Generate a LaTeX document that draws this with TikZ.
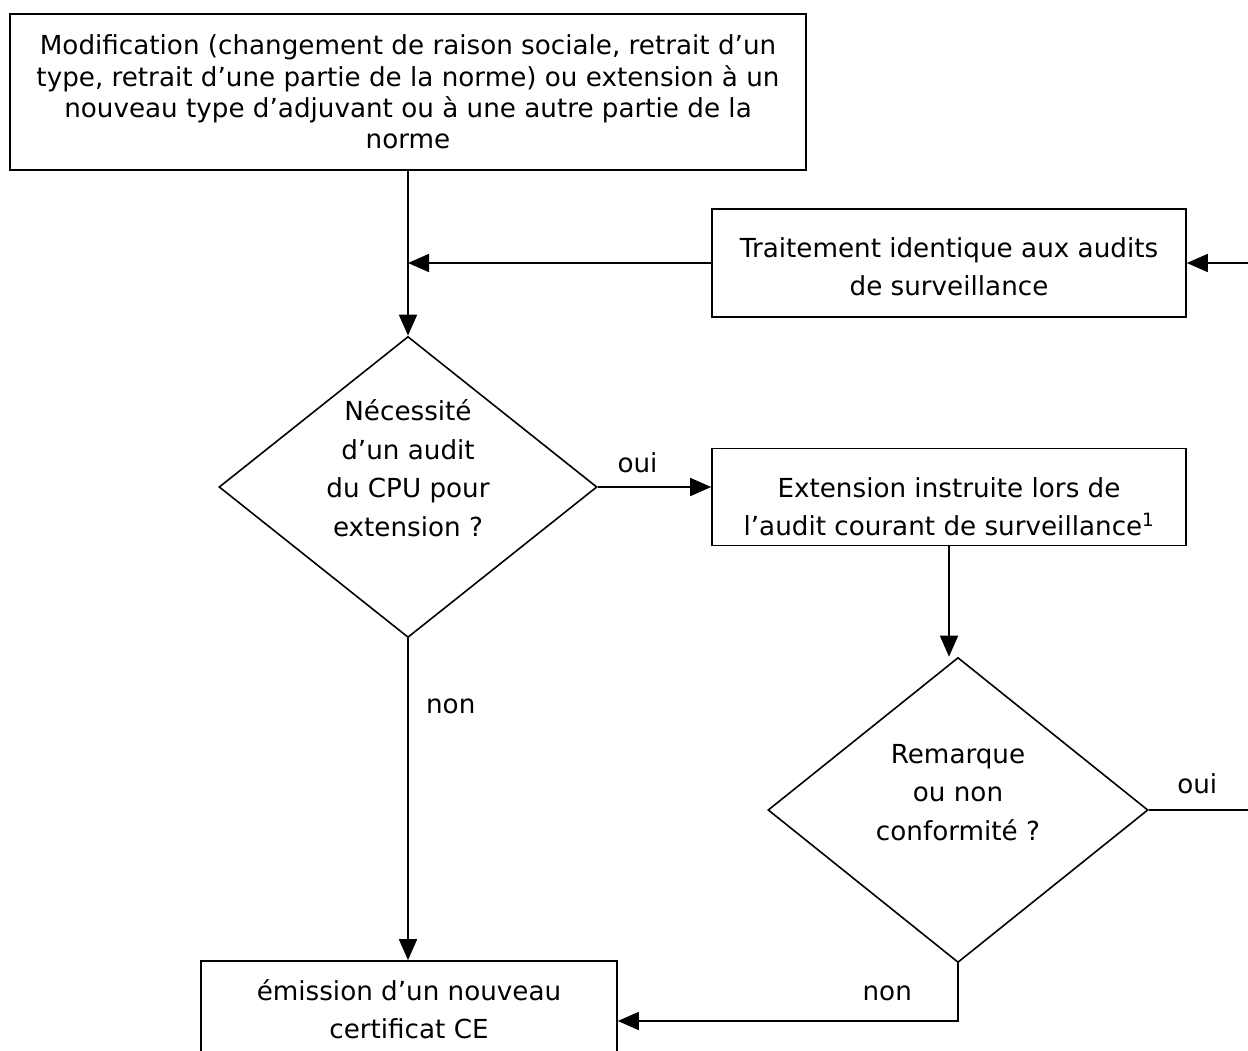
\documentclass[tikz,border=0pt]{standalone}
\usepackage{fontspec}
\setmainfont{DejaVu Sans}
\usetikzlibrary{shapes.geometric, arrows.meta}
% lines of a node, moved up (or down) inside their box
\newcommand{\liftlines}[2]{\raisebox{#1}[\height][\depth]{\begin{tabular}{@{}c@{}}#2\end{tabular}}}

\begin{document}
\begin{tikzpicture}[x=1pt, y=-1pt, line width=1.6pt,
    font=\fontsize{26.2}{38.5}\selectfont,
    >={Triangle[length=21pt, width=18pt]},
    box/.style={draw, rectangle, inner sep=0pt, align=center},
    decision/.style={draw, diamond, inner sep=0pt, align=center, aspect=1.25}]
    \path[use as bounding box, clip] (0,0) rectangle (1248,1051);

    \node[box, minimum width=796pt, minimum height=156pt,
      font=\fontsize{26.2}{31.3}\selectfont] (modif) at (408,92)
      {Modification (changement de raison sociale, retrait d’un\\
       type, retrait d’une partie de la norme) ou extension à un\\
       nouveau type d’adjuvant ou à une autre partie de la\\
       norme};
    \node[box, minimum width=474pt, minimum height=108pt] (traitement) at (949,263)
      {\liftlines{-6pt}{Traitement identique aux audits\\de surveillance}};
    \node[decision, minimum width=378pt, minimum height=301pt] (besoin) at (408,487)
      {\liftlines{16pt}{Nécessité\\d’un audit\\du CPU pour\\extension ?}};
    \node[box, minimum width=474pt, minimum height=97pt] (extension) at (949,497)
      {\liftlines{-12pt}{Extension instruite lors de\\l’audit courant de surveillance\textsuperscript{1}}};
    \node[decision, minimum width=380pt, minimum height=305pt] (remarque) at (958,810)
      {\liftlines{16pt}{Remarque\\ou non\\conformité ?}};
    \node[box, minimum width=416pt, minimum height=96pt] (emission) at (409,1009)
      {émission d’un nouveau\\certificat CE};

    \draw[->] (modif) -- (besoin);
    \draw[->] (traitement) -- (traitement.west -| modif.south);
    \draw[->] (besoin.east) -- node[pos=0.35, above=10pt]{oui} (besoin.east -| extension.west);
    \draw[->] (besoin.south) -- node[pos=0.21, right=14pt]{non} (besoin.south |- emission.north);
    \draw[->] (extension) -- (extension |- remarque.north);
    \draw[->] (remarque.south) |- node[pos=0.604, above=16pt]{non} ([yshift=-12pt]emission.east);
    \draw[->] (remarque.east) -- node[pos=0.44, above=12pt]{oui} ++(110,0) |- (traitement.east);
  \end{tikzpicture}
\end{document}
